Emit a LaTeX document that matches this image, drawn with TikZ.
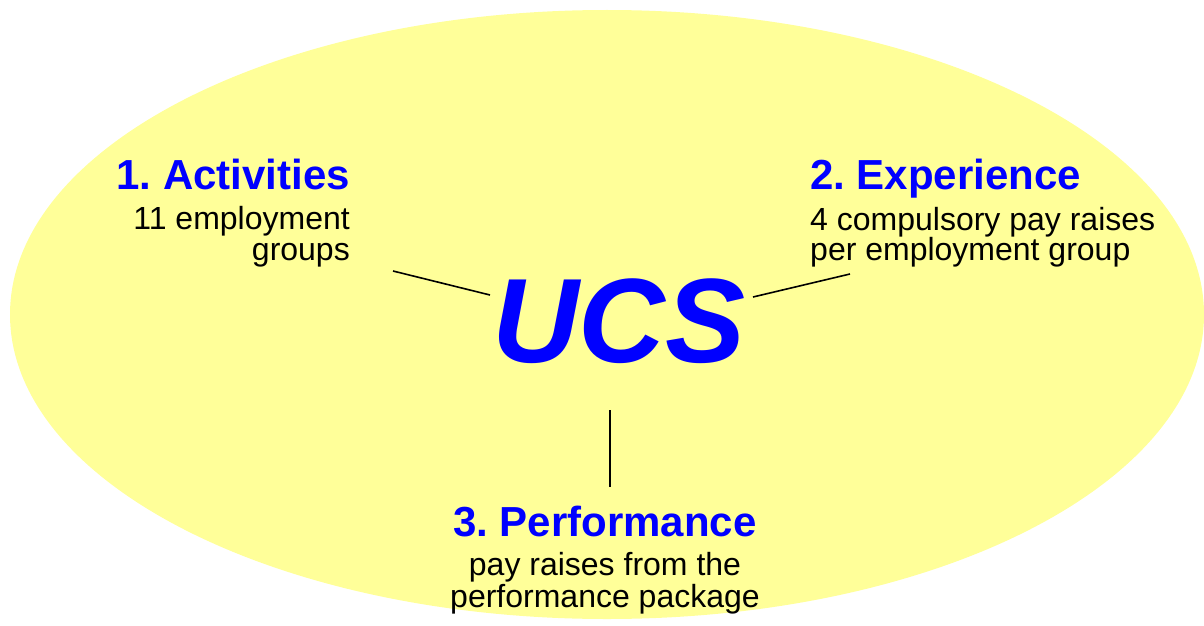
\documentclass[tikz,border=0pt]{standalone}
\usepackage{fontspec}
\setmainfont{Liberation Sans}
\frenchspacing
\definecolor{ellfill}{RGB}{255,255,153}
\definecolor{headblue}{RGB}{0,0,255}
\tikzset{
  head/.style={inner sep=0pt, text=headblue, font=\fontsize{42}{42}\selectfont\bfseries},
  body/.style={inner sep=0pt, text=black, font=\fontsize{32}{32}\selectfont},
  big/.style={inner sep=0pt, text=headblue, font=\fontsize{120}{120}\selectfont\bfseries\itshape},
  conn/.style={draw=black, line width=1.6pt}
}
\begin{document}
\begin{tikzpicture}[x=1pt,y=-1pt]
\useasboundingbox (0,0) rectangle (1204,626);
\fill[ellfill] (607,314.5) ellipse [x radius=597, y radius=304.5];
% UCS
\node[big, anchor=base] (ucs) at (619,362) {UCS};
% Activities
\node[head, anchor=base east] (acth) at (350,189) {1.\ Activities};
\node[body, anchor=base east] (act1) at (350,229.5) {11 employment};
\node[body, anchor=base east] (act2) at (350,260) {groups};
% Experience
\node[head, anchor=base west] (exph) at (810,189) {2.\ Experience};
\node[body, anchor=base west] (exp1) at (810,230.5) {4 compulsory pay raises};
\node[body, anchor=base west] (exp2) at (810,260) {per employment group};
% Performance
\node[head, anchor=base] (perfh) at (605,536) {3.\ Performance};
\node[body, anchor=base] (perf1) at (605,575) {pay raises from the};
\node[body, anchor=base] (perf2) at (605,607) {performance package};
% connectors
\coordinate (la) at (393,271);
\coordinate (lb) at (490,295);
\coordinate (ra) at (753,297);
\coordinate (rb) at (850,274);
\coordinate (va) at (610,410);
\coordinate (vb) at (610,487);
\draw[conn] (la) -- (lb);
\draw[conn] (ra) -- (rb);
\draw[conn] (va) -- (vb);
\end{tikzpicture}
\end{document}
